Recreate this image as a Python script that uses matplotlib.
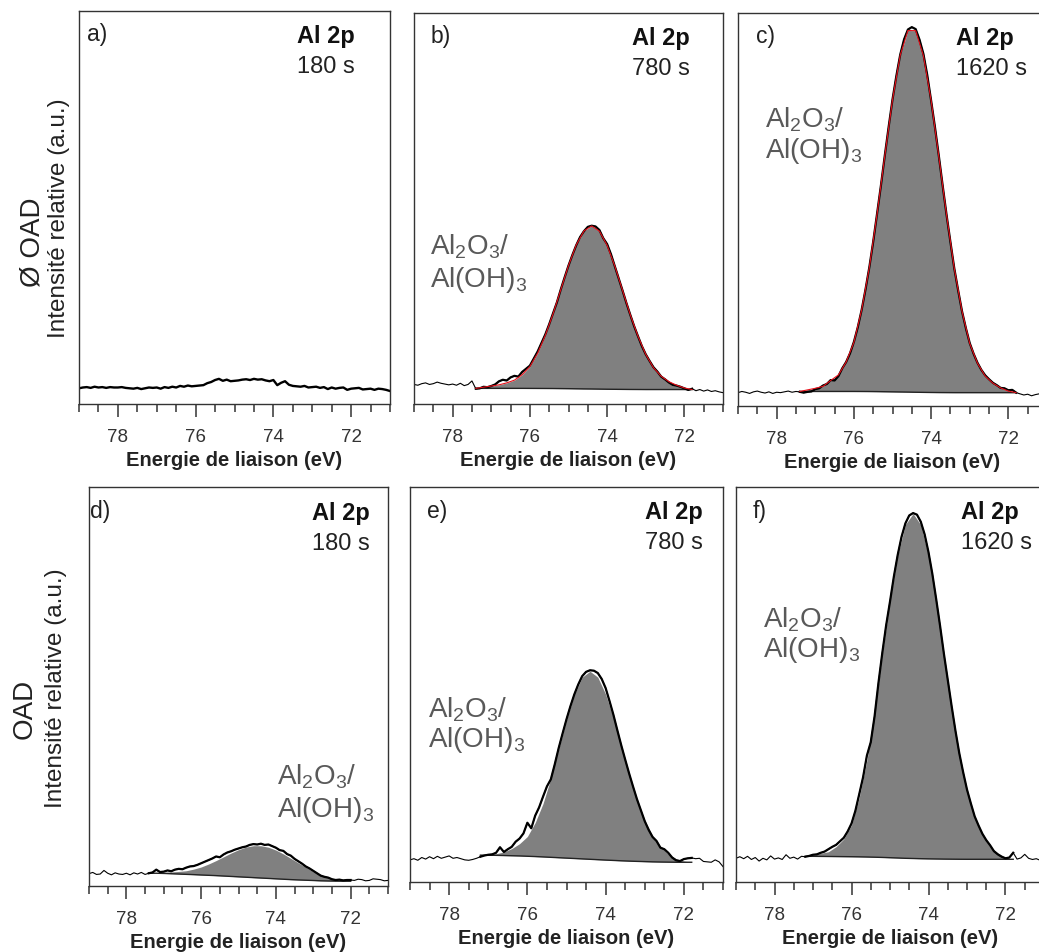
import numpy as np
import matplotlib.pyplot as plt
from matplotlib.ticker import MultipleLocator

plt.rcParams['font.family'] = ['Liberation Sans', 'DejaVu Sans']
plt.rcParams['mathtext.fontset'] = 'custom'
plt.rcParams['mathtext.rm'] = 'Liberation Sans'
plt.rcParams['mathtext.it'] = 'Liberation Sans:italic'
plt.rcParams['mathtext.bf'] = 'Liberation Sans:bold'

# binding energy grids (eV): measured spectra and fitted component
energy = np.linspace(79.0, 71.0, 81)
energy_fit = np.linspace(77.4, 71.8, 29)

tags = ['a)', 'b)', 'c)', 'd)', 'e)', 'f)']
times = ['180 s', '780 s', '1620 s', '180 s', '780 s', '1620 s']
row_titles = ['Ø OAD', 'OAD']
core_level = 'Al 2p'
species = [r'Al$_2$O$_3$/', r'Al(OH)$_3$']
x_ticks = [78, 76, 74, 72]

# measured spectra (relative intensity, % of panel height)
raw_a = [4.0, 4.2, 4.3, 4.1, 4.4, 4.2, 4.3, 4.1, 4.3, 4.2,
         4.2, 4.3, 4.1, 4.0, 3.9, 4.1, 3.8, 4.0, 4.2, 4.1,
         4.2, 3.9, 4.3, 4.1, 4.4, 4.2, 4.6, 4.4, 4.7, 4.5,
         4.6, 4.7, 4.8, 5.3, 5.6, 6.1, 6.4, 5.9, 6.2, 5.8,
         5.9, 6.0, 6.2, 6.3, 6.1, 6.4, 6.2, 6.3, 6.0, 5.8,
         6.1, 4.8, 5.4, 5.8, 4.9, 4.6, 4.5, 4.4, 4.6, 4.2,
         4.3, 4.4, 4.1, 4.3, 3.8, 4.2, 3.9, 4.1, 4.2, 3.6,
         3.9, 4.0, 4.1, 3.7, 3.8, 3.9, 3.6, 3.9, 3.8, 3.6, 3.3]
raw_b = [5.0, 4.8, 5.2, 5.4, 5.0, 5.2, 5.6, 5.3, 5.1, 4.9,
         5.1, 4.8, 5.3, 4.7, 5.0, 5.9, 3.9, 4.0, 4.4, 4.3,
         4.6, 5.0, 5.8, 6.2, 6.0, 6.8, 7.2, 7.0, 8.2, 9.0,
         9.8, 11.6, 13.4, 15.6, 17.8, 20.4, 23.2, 26.0, 29.3, 32.4,
         35.4, 38.1, 40.6, 42.7, 44.2, 45.3, 45.6, 45.4, 44.5, 42.4,
         40.9, 38.3, 35.2, 32.1, 29.0, 25.8, 22.8, 19.9, 17.3, 14.8,
         12.7, 11.0, 9.4, 8.3, 7.0, 6.3, 5.5, 4.9, 4.7, 4.4,
         4.0, 3.6, 3.9, 3.4, 3.7, 3.3, 3.6, 3.2, 3.4, 3.1, 2.9]
raw_c = [3.4, 3.7, 3.5, 3.2, 3.6, 3.8, 3.5, 3.3, 3.6, 3.2,
         3.5, 3.4, 3.6, 3.8, 3.5, 3.7, 3.6, 3.4, 3.6, 3.7,
         4.3, 4.5, 5.2, 5.6, 6.6, 6.5, 7.6, 9.6, 11.2, 13.4,
         16.3, 20.0, 24.4, 29.6, 35.3, 41.8, 48.9, 56.1, 63.7, 71.0,
         78.0, 84.0, 89.4, 93.3, 95.8, 96.4, 95.9, 93.2, 89.6, 84.2,
         77.7, 70.9, 63.6, 56.0, 48.6, 41.7, 35.0, 29.4, 24.1, 19.8,
         16.0, 13.3, 11.0, 9.2, 7.8, 6.8, 5.9, 5.3, 4.6, 4.5,
         4.0, 4.1, 3.4, 3.1, 2.8, 3.0, 2.6, 2.9, 3.1, 2.8, 2.9]
raw_d = [3.1, 3.4, 2.9, 3.0, 3.9, 3.2, 2.8, 3.3, 3.0, 2.9,
         3.2, 2.8, 3.3, 3.0, 3.4, 2.9, 3.2, 3.4, 4.1, 3.5,
         3.6, 3.9, 3.7, 4.1, 4.3, 4.2, 4.6, 4.9, 5.0, 5.3,
         5.7, 6.1, 6.5, 6.9, 7.4, 7.2, 7.9, 8.4, 8.7, 9.1,
         9.4, 9.7, 9.9, 10.3, 10.5, 10.4, 10.6, 10.3, 10.4, 10.0,
         9.6, 9.0, 8.8, 8.0, 7.6, 6.8, 6.2, 5.6, 4.9, 4.4,
         3.8, 3.2, 2.6, 2.3, 2.1, 1.7, 1.5, 1.6, 1.4, 1.5,
         1.5, 1.4, 1.7, 1.6, 1.3, 1.4, 1.8, 1.7, 1.6, 1.3, 1.4]
raw_e = [5.6, 5.9, 5.5, 6.2, 5.8, 6.4, 5.9, 6.5, 6.0, 6.3,
         6.6, 6.0, 6.2, 5.9, 5.6, 5.5, 5.7, 6.0, 6.4, 6.7,
         6.9, 7.0, 7.4, 8.8, 7.6, 8.3, 8.9, 10.2, 11.0, 12.3,
         15.0, 13.6, 16.8, 18.9, 21.6, 24.2, 26.0, 29.8, 33.9, 37.6,
         41.2, 44.5, 47.5, 50.0, 52.1, 53.2, 53.6, 53.5, 52.9, 51.4,
         49.1, 45.8, 42.3, 38.4, 34.6, 31.0, 27.5, 24.2, 21.0, 18.2,
         15.4, 13.2, 11.4, 10.4, 8.7, 8.3, 7.4, 6.2, 5.5, 5.3,
         5.8, 6.0, 6.1, 5.9, 6.0, 5.2, 5.1, 5.0, 5.6, 5.1, 3.9]
raw_f = [6.0, 6.4, 5.9, 6.5, 5.7, 6.2, 5.3, 6.0, 5.6, 6.6,
         5.8, 6.1, 5.7, 6.9, 6.0, 6.3, 5.8, 6.5, 6.4, 6.6,
         6.9, 7.0, 7.4, 7.7, 8.3, 8.9, 9.4, 10.3, 11.2, 12.8,
         14.8, 18.0, 22.2, 26.5, 32.0, 35.4, 42.0, 50.4, 58.0, 65.0,
         71.0, 77.3, 82.8, 87.4, 90.8, 92.8, 93.4, 93.0, 91.2, 88.0,
         83.5, 78.0, 71.6, 64.9, 57.8, 51.2, 44.6, 38.3, 32.6, 27.8,
         23.4, 19.9, 16.6, 14.3, 12.2, 10.6, 9.3, 7.8, 7.0, 6.4,
         6.0, 6.2, 7.4, 5.8, 6.1, 7.0, 6.0, 5.7, 5.9, 5.5, 5.8]

# fitted Al2O3/Al(OH)3 component and Shirley background
comp_b = [0, 0.3, 0.6, 0.9, 1.4, 2.1, 3.5, 5.6, 9.0, 13.6, 19.1, 25.3, 31.5, 36.8, 40.4,
          41.7, 40.4, 36.8, 31.5, 25.3, 19.1, 13.6, 9.0, 5.6, 3.4, 2.0, 1.1, 0.4, 0]
bg_b = [4.0, 4.0, 4.0, 4.0, 4.0, 4.0, 4.0, 3.99, 3.98, 3.97, 3.96, 3.94, 3.92, 3.89, 3.86,
        3.84, 3.81, 3.78, 3.76, 3.74, 3.72, 3.71, 3.70, 3.7, 3.7, 3.7, 3.7, 3.7, 3.7]
comp_c = [0, 0.4, 0.8, 1.3, 2.8, 4.2, 7.5, 12.5, 20.7, 31.6, 45.2, 60.0, 74.3, 85.7, 92.0,
          92.0, 85.7, 74.3, 60.0, 45.2, 31.6, 20.7, 12.5, 7.5, 4.2, 2.4, 1.2, 0.4, 0]
bg_c = [3.7, 3.7, 3.7, 3.7, 3.7, 3.7, 3.7, 3.7, 3.69, 3.68, 3.66, 3.63, 3.6, 3.57, 3.54,
        3.5, 3.47, 3.44, 3.42, 3.41, 3.4, 3.4, 3.4, 3.4, 3.4, 3.4, 3.4, 3.4, 3.4]
comp_d = [0, 0.1, 0.3, 0.45, 0.65, 0.9, 1.38, 2.0, 2.83, 3.77, 4.81, 5.85, 6.8, 7.55, 8.0,
          8.09, 7.82, 7.21, 6.34, 5.33, 4.28, 3.28, 2.2, 1.4, 0.8, 0.35, 0.1, 0, 0]
bg_d = [3.2, 3.2, 3.15, 3.08, 3.0, 2.92, 2.85, 2.76, 2.68, 2.6, 2.5, 2.4, 2.3, 2.2, 2.1,
        2.0, 1.9, 1.8, 1.7, 1.6, 1.52, 1.45, 1.38, 1.3, 1.26, 1.23, 1.2, 1.2, 1.2]
comp_e = [0, 0, 0.2, 0.4, 0.9, 1.8, 3.1, 5.0, 8.6, 13.5, 20.0, 27.5, 35.0, 41.5, 46.0,
          47.6, 46.2, 42.0, 36.0, 29.0, 22.0, 15.5, 10.5, 6.6, 3.9, 2.0, 0.9, 0.3, 0]
bg_e = [6.8, 6.8, 6.78, 6.75, 6.7, 6.65, 6.6, 6.52, 6.44, 6.35, 6.25, 6.15, 6.05, 5.95, 5.85,
        5.75, 5.65, 5.55, 5.46, 5.37, 5.29, 5.22, 5.16, 5.1, 5.06, 5.03, 5.0, 5.0, 5.0]
comp_f = [0, 0, 0.3, 0.8, 1.2, 2.5, 4.5, 8.0, 15.0, 24.5, 36.0, 51.6, 65.0, 76.6, 84.5,
          87.3, 84.5, 76.6, 65.0, 51.6, 38.4, 26.7, 17.5, 10.7, 6.1, 3.2, 1.6, 0.5, 0]
bg_f = [6.5, 6.5, 6.5, 6.48, 6.46, 6.44, 6.42, 6.4, 6.37, 6.33, 6.28, 6.22, 6.15, 6.08, 6.0,
        5.95, 5.9, 5.86, 5.83, 5.8, 5.78, 5.76, 5.75, 5.75, 5.75, 5.75, 5.75, 5.75, 5.75]

raws = [raw_a, raw_b, raw_c, raw_d, raw_e, raw_f]
comps = [None, comp_b, comp_c, comp_d, comp_e, comp_f]
bgs = [None, bg_b, bg_c, bg_d, bg_e, bg_f]
with_envelope = [False, True, True, False, False, False]

# layout (figure fractions, 1039 x 953 px)
W, H = 1039.0, 953.0
boxes = [(79, 12, 390, 405), (414, 14, 723, 405), (738, 14, 1047, 407),
         (89, 488, 388, 887), (410, 488, 723, 883), (736, 488, 1044, 883)]
tag_x = [0.026, 0.052, 0.058, 0.004, 0.054, 0.055]
head_x = [0.700, 0.704, 0.704, 0.745, 0.752, 0.732]
species_pos = [None, (0.052, 0.384, 0.302), (0.087, 0.712, 0.634),
               (0.629, 0.256, 0.175), (0.058, 0.420, 0.344), (0.088, 0.648, 0.572)]

fig = plt.figure(figsize=(W / 100, H / 100), dpi=100)

for i in range(6):
    x0, y0, x1, y1 = boxes[i]
    ax = fig.add_axes([x0 / W, 1 - y1 / H, (x1 - x0) / W, (y1 - y0) / H])
    raw = np.array(raws[i])

    if comps[i] is None:
        ax.plot(energy, raw, color='black', lw=1.7)
    else:
        comp = np.array(comps[i])
        bg = np.array(bgs[i])
        nz = np.nonzero(comp)[0]
        sl = slice(max(nz[0] - 1, 0), nz[-1] + 2)
        ef = energy_fit[sl]
        ax.fill_between(ef, bg[sl], bg[sl] + comp[sl], color='#808080', lw=0)
        ax.plot(ef, bg[sl], color='#222222', lw=1.0)
        ax.plot(energy, raw, color='black', lw=0.8)
        inside = (energy <= ef[0]) & (energy >= ef[-1])
        ax.plot(energy[inside], raw[inside], color='black', lw=1.6)
        if with_envelope[i]:
            ax.plot(ef, bg[sl] + comp[sl], color='#e8101a', lw=0.8)

    ax.set_xlim(79, 71)
    ax.set_ylim(0, 100)
    ax.set_yticks([])
    ax.set_xticks(x_ticks)
    ax.xaxis.set_minor_locator(MultipleLocator(0.5))
    ax.tick_params(axis='x', which='major', direction='out', length=9, width=1.1,
                   pad=8, labelsize=13.5, colors='#333333')
    ax.tick_params(axis='x', which='minor', direction='out', length=5.5, width=1.1,
                   colors='#333333')
    for s in ax.spines.values():
        s.set_linewidth(1.0)
        s.set_color('#333333')
    ax.set_xlabel('Energie de liaison (eV)', fontsize=14.5, fontweight='bold',
                  labelpad=4, color='#222222')

    ax.text(tag_x[i], 0.925, tags[i], transform=ax.transAxes, fontsize=16.5,
            va='baseline', ha='left', color='#222222')
    ax.text(head_x[i], 0.921, core_level, transform=ax.transAxes, fontsize=17,
            fontweight='bold', va='baseline', ha='left', color='#111111')
    ax.text(head_x[i], 0.845, times[i], transform=ax.transAxes, fontsize=17,
            va='baseline', ha='left', color='#222222')
    if species_pos[i] is not None:
        sx, sy1, sy2 = species_pos[i]
        ax.text(sx, sy1, species[0], transform=ax.transAxes, fontsize=20,
                va='baseline', ha='left', color='#595959')
        ax.text(sx, sy2, species[1], transform=ax.transAxes, fontsize=20,
                va='baseline', ha='left', color='#595959')

# row labels
fig.text(32 / W, 1 - 242 / H, row_titles[0], rotation=90, fontsize=20,
         ha='center', va='center', color='#222222')
fig.text(59 / W, 1 - 218 / H, 'Intensité relative (a.u.)', rotation=90, fontsize=17.5,
         ha='center', va='center', color='#222222')
fig.text(25 / W, 1 - 709 / H, row_titles[1], rotation=90, fontsize=20,
         ha='center', va='center', color='#222222')
fig.text(56 / W, 1 - 688 / H, 'Intensité relative (a.u.)', rotation=90, fontsize=17.5,
         ha='center', va='center', color='#222222')

fig.savefig('out.png', dpi=100)
